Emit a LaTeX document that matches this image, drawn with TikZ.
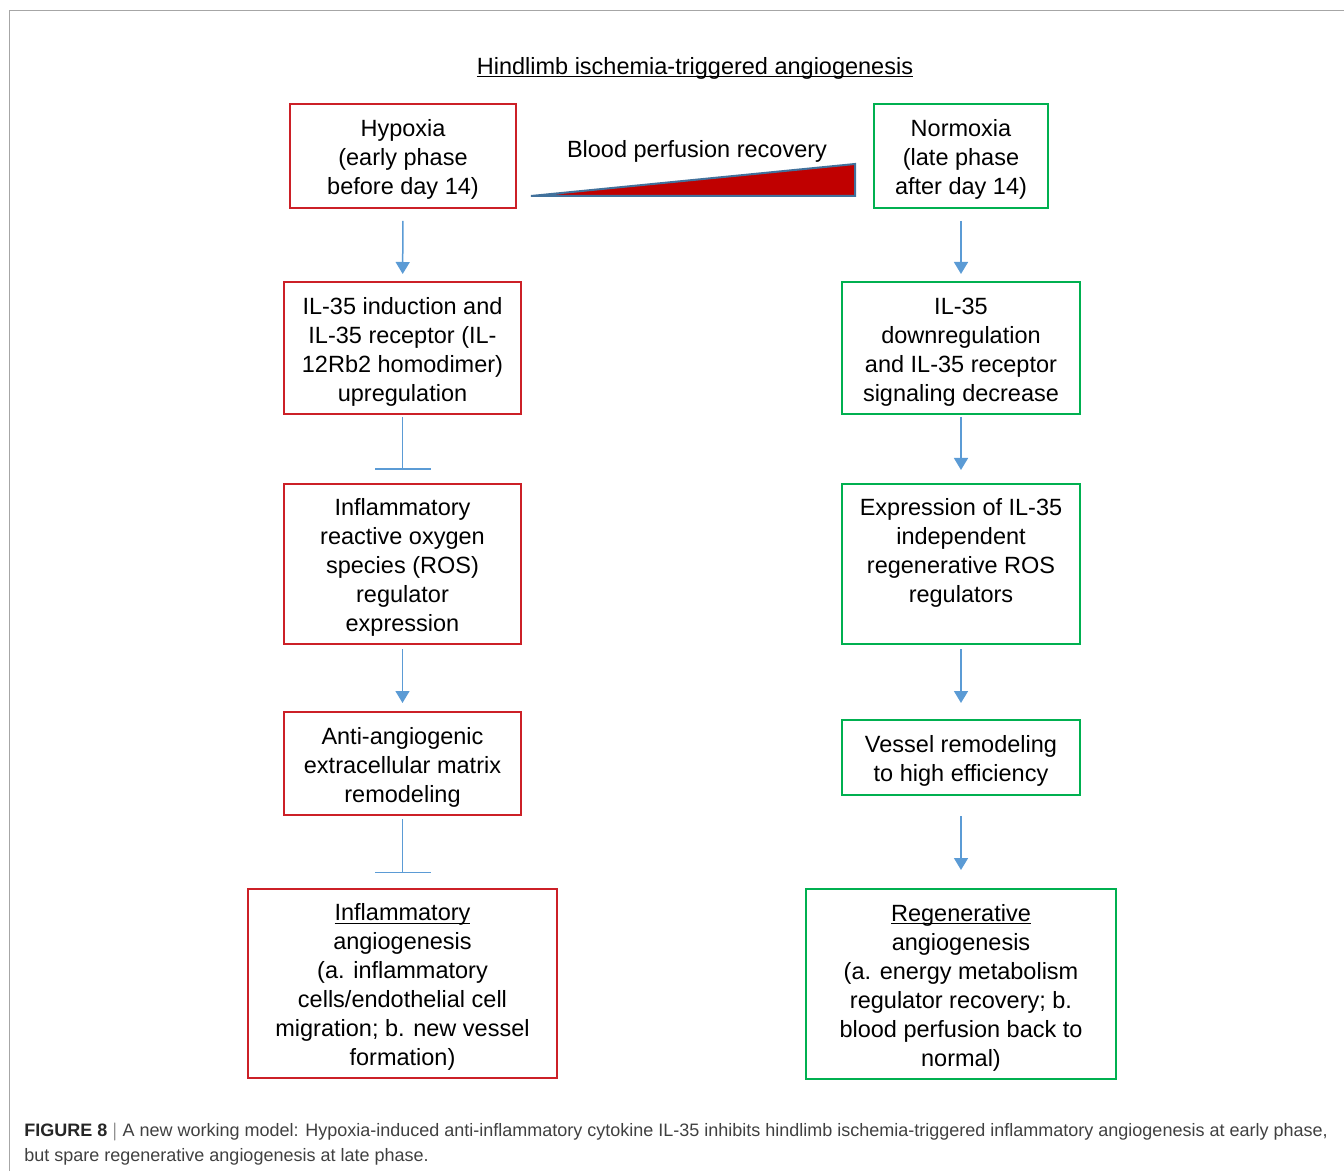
\documentclass[tikz,border=0pt]{standalone}
\usepackage{fontspec}
\setmainfont{Liberation Sans}
\usetikzlibrary{arrows.meta}
\definecolor{boxred}{RGB}{204,32,39}
\definecolor{boxgreen}{RGB}{0,176,80}
\definecolor{flowblue}{RGB}{91,155,213}
\definecolor{wedgered}{RGB}{192,0,0}
\definecolor{wedgeline}{RGB}{65,113,156}
\definecolor{captext}{RGB}{64,64,64}
\newcommand\ulword[1]{\setbox0\hbox{#1}\rlap{\rule[-1.7pt]{\wd0}{0.7pt}}\box0}
\newcommand\sv{\rule{0pt}{12pt}}

\begin{document}
\begin{tikzpicture}[x=0.5pt, y=-0.5pt,
  font=\fontsize{11.75pt}{14.5pt}\selectfont,
  box/.style={draw, line width=1pt, align=center, inner sep=0pt},
  early/.style={box, draw=boxred},
  late/.style={box, draw=boxgreen},
  flow/.style={-{Triangle[length=6pt,width=7pt]}, draw=flowblue, line width=0.75pt},
  block/.style={-{Bar[width=28pt]}, draw=flowblue, line width=0.75pt}
]
\useasboundingbox (0,0) rectangle (1344,1171);
\draw[line width=0.75pt, black!35] (9.5,1171) -- (9.5,10.5) -- (1344,10.5);

\node (title) at (695,68) {\ulword{Hindlimb ischemia-triggered angiogenesis}};

% early phase (left)
\node[early, minimum width=113pt, minimum height=52pt] (hypoxia) at (403,156)
  {\sv Hypoxia\\(early phase\\before day 14)};
\node[early, minimum width=118.5pt, minimum height=66pt] (ilup) at (402.5,348)
  {\sv IL-35 induction and\\IL-35 receptor (IL-\\12Rb2 homodimer)\\upregulation};
\node[early, minimum width=118.5pt, minimum height=80pt] (rosinf) at (402.5,564)
  {\sv Inflammatory\\reactive oxygen\\species (ROS)\\regulator\\expression};
\node[early, minimum width=118.5pt, minimum height=51.5pt] (ecm) at (402.5,763.5)
  {\sv Anti-angiogenic\\extracellular matrix\\remodeling};
\node[early, minimum width=154.5pt, minimum height=94.5pt] (inflang) at (402.5,983.5)
  {\sv\ulword{Inflammatory}\\angiogenesis\\(a. inflammatory\\cells/endothelial cell\\migration; b. new vessel\\formation)};

% late phase (right)
\node[late, minimum width=87pt, minimum height=52pt] (normoxia) at (961,156)
  {\sv Normoxia\\(late phase\\after day 14)};
\node[late, minimum width=119pt, minimum height=66pt] (ildown) at (961,348)
  {\sv IL-35\\downregulation\\and IL-35 receptor\\signaling decrease};
\node[late, minimum width=119pt, minimum height=80pt] (rosreg) at (961,564)
  {\sv Expression of IL-35\\independent\\regenerative ROS\\regulators\\\rule[-2.5pt]{0pt}{0pt}};
\node[late, minimum width=119pt, minimum height=37.5pt] (vessel) at (961,757.5)
  {\sv Vessel remodeling\\to high efficiency};
\node[late, minimum width=155pt, minimum height=95pt] (regang) at (961,984)
  {\sv\ulword{Regenerative}\\angiogenesis\\(a. energy metabolism\\regulator recovery; b.\\blood perfusion back to\\normal)};

% perfusion wedge
\node (perfusion) at (697,151) {Blood perfusion recovery};
\draw[wedgeline, fill=wedgered, line width=1pt, line join=miter]
  (531,196) -- (855,196) -- (855,164) -- cycle;

\draw[flow, shorten <=6pt, shorten >=3.5pt] (hypoxia) -- (ilup);
\draw[block, shorten <=1pt, shorten >=6.5pt] (ilup) -- (rosinf);
\draw[flow, shorten <=2pt, shorten >=4pt] (rosinf) -- (ecm);
\draw[block, shorten <=1.5pt, shorten >=7.5pt] (ecm) -- (inflang);

\draw[flow, shorten <=6pt, shorten >=3.5pt] (normoxia) -- (ildown);
\draw[flow, shorten <=1pt, shorten >=6.5pt] (ildown) -- (rosreg);
\draw[flow, shorten <=2pt, shorten >=8pt] (rosreg) -- (vessel);
\draw[flow, shorten <=10pt, shorten >=9pt] (vessel) -- (regang);

\node[anchor=north west, inner sep=0pt, align=left, text=captext,
  font=\fontsize{9pt}{12.5pt}\selectfont] (caption) at (24,1123)
  {{\bfseries\color{black!85}FIGURE 8} $|$ A new working model: Hypoxia-induced anti-inflammatory cytokine IL-35 inhibits hindlimb ischemia-triggered inflammatory angiogenesis at early phase,\\
   but spare regenerative angiogenesis at late phase.};
\end{tikzpicture}
\end{document}
